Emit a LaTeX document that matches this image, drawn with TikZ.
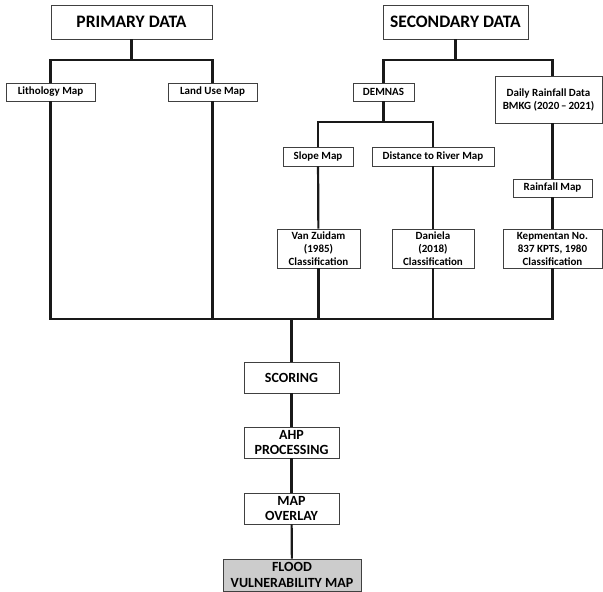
\documentclass[tikz,border=0pt]{standalone}
\usepackage{fontspec}
\setmainfont{Carlito}[BoldFont={Carlito Bold}]
\tikzset{
  box/.style={draw=black!75,line width=0.9pt,fill=white,inner sep=0pt,align=center,
    font=\bfseries\fontsize{11}{13}\selectfont},
  head/.style={box,font=\bfseries\fontsize{17.5}{20}\selectfont},
  proc/.style={box,font=\bfseries\fontsize{14}{15.5}\selectfont},
  link/.style={line width=2.2pt,black!90}
}
\begin{document}
\begin{tikzpicture}[x=1pt,y=-1pt]
  \useasboundingbox (0,0) rectangle (603,592);
  % sources
  \node[head,minimum width=161,minimum height=34] (prim) at (131.5,22) {PRIMARY DATA};
  \node[head,minimum width=145,minimum height=34] (sec) at (455.5,22) {SECONDARY DATA};
  \node[box,minimum width=89,minimum height=18] (litho) at (50.5,92) {Lithology Map};
  \node[box,minimum width=89,minimum height=18] (landuse) at (212.5,92) {Land Use Map};
  \node[box,minimum width=61,minimum height=18] (demnas) at (383.5,92) {DEMNAS};
  \node[box,minimum width=107,minimum height=47] (daily) at (548.5,99.5) {Daily Rainfall Data\\BMKG (2020\,--\,2021)};
  \node[box,minimum width=70,minimum height=19] (slope) at (318,156.5) {Slope Map};
  \node[box,minimum width=122,minimum height=19] (dist) at (433,156.5) {Distance to River Map};
  \node[box,minimum width=79,minimum height=18] (rainmap) at (552.5,188) {Rainfall Map};
  \node[box,minimum width=83,minimum height=39] (vanz) at (318.5,248.5) {Van Zuidam\\(1985)\\Classification};
  \node[box,minimum width=82,minimum height=39] (daniela) at (433,248.5) {Daniela\\(2018)\\Classification};
  \node[box,minimum width=99,minimum height=39] (kepm) at (552.5,248.5) {Kepmentan No.\\837 KPTS, 1980\\Classification};
  % processing
  \node[proc,minimum width=95,minimum height=31] (scoring) at (291.5,377.5) {SCORING};
  \node[proc,minimum width=95,minimum height=31] (ahp) at (291.5,442.5) {AHP\\PROCESSING};
  \node[proc,minimum width=95,minimum height=31] (overlay) at (291.5,508.5) {MAP\\OVERLAY};
  \node[proc,fill=black!20,minimum width=138,minimum height=32] (flood) at (292,575) {FLOOD\\VULNERABILITY MAP};
  % junctions
  \coordinate (ptop) at (131.5,60);
  \coordinate (stop) at (455.5,60);
  \coordinate (dtop) at (383.5,122);
  \coordinate (base) at (291.5,319);
  % connectors
  \draw[link] (prim) -- (ptop);
  \draw[link] (litho) |- (ptop) -| (landuse);
  \draw[link] (sec) -- (stop);
  \draw[link] (demnas) |- (stop) -| (daily.north -| rainmap);
  \draw[link] (demnas) -- (dtop);
  \draw[link] (slope) |- (dtop) -| (dist);
  \draw[link] (slope) -- (vanz);
  \draw[link] (dist) -- (daniela);
  \draw[link] (daily.south -| rainmap) -- (rainmap);
  \draw[link] (rainmap) -- (kepm);
  \draw[link] (litho) -- (litho |- base) -- (kepm.south |- base) -- (kepm);
  \draw[link] (landuse) -- (landuse |- base);
  \draw[link] (vanz) -- (vanz |- base);
  \draw[link] (daniela) -- (daniela |- base);
  \draw[link] (base) -- (scoring);
  \draw[link] (scoring) -- (ahp);
  \draw[link] (ahp) -- (overlay);
  \draw[link] (overlay) -- (flood);
\end{tikzpicture}
\end{document}
